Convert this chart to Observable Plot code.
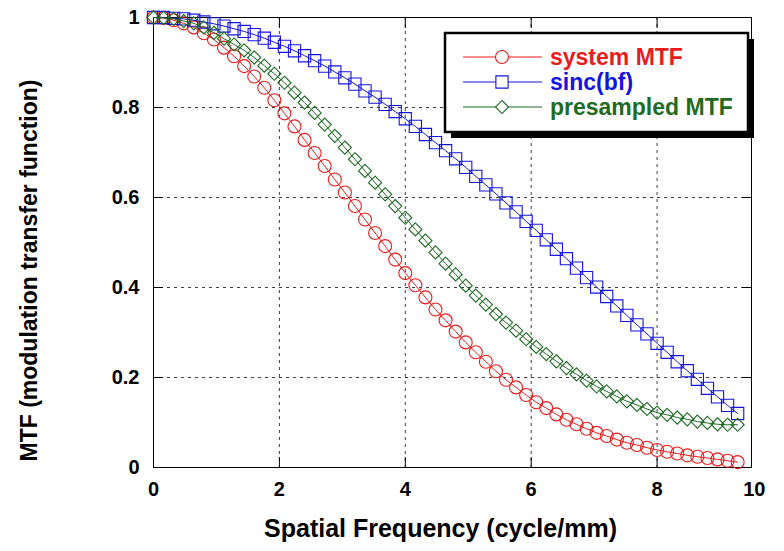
<!DOCTYPE html>
<html>
<head>
<meta charset="utf-8">
<script src="https://cdn.jsdelivr.net/npm/d3@7"></script>
<script src="https://cdn.jsdelivr.net/npm/@observablehq/plot@0.6"></script>
<style>
  body { margin: 0; background: #fff; }
  #chart { position: relative; width: 784px; height: 551px; }
</style>
</head>
<body>
<div id="chart"></div>
<script>
// ---- data ----
const freq = [0,0.16,0.32,0.48,0.64,0.8,0.96,1.12,1.28,1.44,1.6,1.76,1.92,2.08,2.24,2.4,2.56,2.72,2.88,3.04,3.2,3.36,3.52,3.68,3.84,4,4.16,4.32,4.48,4.64,4.8,4.96,5.12,5.28,5.44,5.6,5.76,5.92,6.08,6.24,6.4,6.56,6.72,6.88,7.04,7.2,7.36,7.52,7.68,7.84,8,8.16,8.32,8.48,8.64,8.8,8.96,9.12,9.28];
const systemMTF = [1.000,0.999,0.994,0.987,0.978,0.965,0.951,0.933,0.914,0.892,0.869,0.844,0.816,0.787,0.758,0.728,0.699,0.670,0.640,0.611,0.581,0.551,0.521,0.492,0.462,0.432,0.405,0.378,0.351,0.327,0.302,0.278,0.256,0.235,0.214,0.195,0.178,0.161,0.145,0.132,0.118,0.106,0.096,0.086,0.077,0.070,0.062,0.055,0.050,0.044,0.039,0.035,0.031,0.027,0.024,0.021,0.018,0.015,0.012];
const sincBF = [1.000,1.000,0.998,0.997,0.994,0.990,0.986,0.981,0.975,0.969,0.962,0.954,0.945,0.936,0.926,0.915,0.904,0.892,0.879,0.866,0.852,0.837,0.823,0.807,0.791,0.775,0.758,0.740,0.722,0.704,0.686,0.667,0.647,0.628,0.608,0.588,0.568,0.547,0.527,0.506,0.485,0.464,0.443,0.422,0.401,0.380,0.359,0.338,0.317,0.297,0.276,0.256,0.235,0.215,0.196,0.176,0.157,0.138,0.120];
const presampledMTF = [1.000,0.999,0.997,0.992,0.987,0.978,0.966,0.953,0.940,0.927,0.911,0.893,0.875,0.855,0.833,0.811,0.788,0.762,0.737,0.711,0.685,0.659,0.633,0.607,0.581,0.555,0.529,0.504,0.478,0.453,0.429,0.404,0.382,0.362,0.341,0.322,0.304,0.285,0.268,0.252,0.236,0.221,0.207,0.193,0.180,0.169,0.158,0.147,0.139,0.130,0.122,0.117,0.111,0.107,0.102,0.099,0.096,0.095,0.095];

const seriesNames = ["system MTF", "sinc(bf)", "presampled MTF"];
const seriesValues = [systemMTF, sincBF, presampledMTF];
const seriesColors = ["#e81c1c", "#1414dc", "#1f6b24"];
const seriesSymbols = ["circle", "square", "diamond2"];
const seriesRadius = [6.5, 6.9, 5.9];

const xTicks = [0, 2, 4, 6, 8];
const xEndLabel = "10";
const xGrid = [2, 4, 6, 8];
const yTicks = [0, 0.2, 0.4, 0.6, 0.8, 1];
const yGrid = [0.2, 0.4, 0.6, 0.8];
const xTitle = "Spatial Frequency (cycle/mm)";
const yTitle = "MTF (modulation transfer function)";

// ---- build table ----
const rows = seriesNames.flatMap((s, i) => freq.map((f, j) => ({series: s, f, v: seriesValues[i][j]})));

const gridStyle = {stroke: "#2a2a2a", strokeOpacity: 0.9, strokeWidth: 1, strokeDasharray: "3,4"};
const fontBold = {fontWeight: "bold"};

const marks = [
  Plot.gridX(xGrid, gridStyle),
  Plot.gridY(yGrid, gridStyle),
  Plot.frame({stroke: "black", strokeWidth: 1}),
  Plot.axisX(xTicks, {anchor: "bottom", tickSize: -10, tickPadding: 24, fontSize: 20, ...fontBold, label: null, tickFormat: d => String(d)}),
  Plot.axisX(xTicks, {anchor: "top", tickSize: -10, label: null, tickFormat: () => ""}),
  Plot.axisY(yTicks, {anchor: "left", tickSize: -10, tickPadding: 24, fontSize: 20, ...fontBold, label: null, tickFormat: d => String(d)}),
  Plot.axisY(yTicks, {anchor: "right", tickSize: -10, label: null, tickFormat: () => ""}),
  Plot.text([xEndLabel], {frameAnchor: "bottom-right", lineAnchor: "top", dx: 14, dy: 14, fontSize: 20, ...fontBold}),
  Plot.text([xTitle], {frameAnchor: "bottom", lineAnchor: "middle", textAnchor: "middle", dx: -12, dy: 61, fontSize: 25, ...fontBold}),
  Plot.text([yTitle], {frameAnchor: "left", lineAnchor: "middle", textAnchor: "middle", rotate: -90, dx: -124, dy: 28, fontSize: 23, ...fontBold})
];

seriesNames.forEach((s, i) => {
  const d = rows.filter(r => r.series === s);
  marks.push(Plot.line(d, {x: "f", y: "v", stroke: seriesColors[i], strokeWidth: 1}));
  marks.push(Plot.dot(d, {x: "f", y: "v", stroke: seriesColors[i], fill: "none", symbol: seriesSymbols[i], r: seriesRadius[i], strokeWidth: 1.1}));
});

const chart = Plot.plot({
  width: 784,
  height: 551,
  marginLeft: 153,
  marginRight: 33,
  marginTop: 17,
  marginBottom: 84,
  x: {domain: [0, 9.5]},
  y: {domain: [0, 1]},
  style: {background: "white", fontFamily: "'Liberation Sans', Arial, sans-serif", fontSize: "20px", color: "black", overflow: "visible"},
  marks
});

// ---- legend box inside the plot ----
const svg = d3.select(chart);
const lg = svg.append("g")
  .attr("font-family", "'Liberation Sans', Arial, sans-serif")
  .attr("font-weight", "bold")
  .attr("font-size", 23)
  .attr("text-anchor", "start");
const box = {x: 445, y: 33, w: 303, h: 99};
lg.append("rect").attr("x", box.x + 6).attr("y", box.y + 6).attr("width", box.w).attr("height", box.h).attr("fill", "black");
lg.append("rect").attr("x", box.x).attr("y", box.y).attr("width", box.w).attr("height", box.h).attr("fill", "white").attr("stroke", "black").attr("stroke-width", 2.5);
const symMap = {circle: d3.symbolCircle, square: d3.symbolSquare, diamond2: d3.symbolDiamond2};
seriesNames.forEach((s, i) => {
  const y = box.y + 24 + 25 * i;
  lg.append("line").attr("x1", box.x + 18).attr("x2", box.x + 97).attr("y1", y).attr("y2", y).attr("stroke", seriesColors[i]).attr("stroke-width", 1);
  lg.append("path").attr("d", d3.symbol(symMap[seriesSymbols[i]], Math.PI * seriesRadius[i] ** 2)()).attr("transform", `translate(${box.x + 57},${y})`).attr("fill", "white").attr("stroke", seriesColors[i]).attr("stroke-width", 1.1);
  lg.append("text").attr("x", box.x + 105).attr("y", y).attr("dy", "0.36em").attr("text-anchor", "start").attr("fill", seriesColors[i]).text(s);
});

document.getElementById("chart").appendChild(chart);
</script>
</body>
</html>
